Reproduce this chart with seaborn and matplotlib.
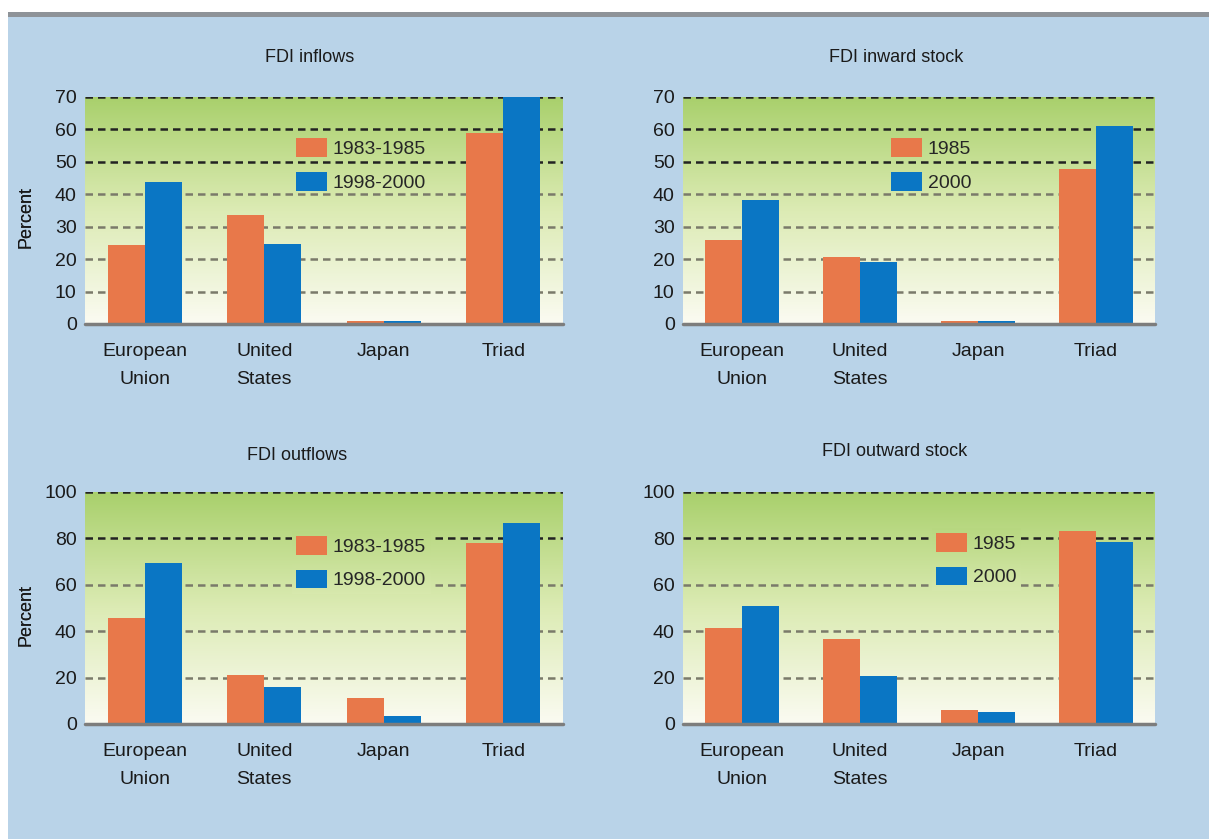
import numpy as np
import pandas as pd
import seaborn as sns
import matplotlib.pyplot as plt
from matplotlib.patches import Rectangle, Patch
from matplotlib.colors import LinearSegmentedColormap

sns.set_style('white')
plt.rcParams['font.family'] = ['Liberation Sans', 'DejaVu Sans']

# Dados
regioes = ['European\nUnion', 'United\nStates', 'Japan', 'Triad']

periodos_fluxo = ['1983-1985', '1998-2000']
periodos_estoque = ['1985', '2000']

inflows_antes = [24.5, 33.7, 1, 59]
inflows_depois = [43.8, 24.7, 1, 70.7]

inward_antes = [26, 20.7, 1, 47.8]
inward_depois = [38.3, 19.2, 1, 61]

outflows_antes = [45.5, 21, 11, 78]
outflows_depois = [69.2, 16, 3.4, 86.5]

outward_antes = [41.5, 36.5, 6, 83]
outward_depois = [50.8, 20.7, 5, 78.5]

titulos = ['FDI inflows', 'FDI inward stock', 'FDI outflows', 'FDI outward stock']
limites = [70, 70, 100, 100]
passos = [10, 10, 20, 20]

cor_laranja = '#e8784a'
cor_azul = '#0a76c4'
cor_fundo = '#b9d3e8'

verde = LinearSegmentedColormap.from_list('verde', ['#fbfbf2', '#dcebb4', '#a9d06c'])


def monta_tabela(antes, depois, periodos):
    return pd.DataFrame({
        'regiao': regioes * 2,
        'valor': antes + depois,
        'periodo': [periodos[0]] * 4 + [periodos[1]] * 4,
    })


tabelas = [
    monta_tabela(inflows_antes, inflows_depois, periodos_fluxo),
    monta_tabela(inward_antes, inward_depois, periodos_estoque),
    monta_tabela(outflows_antes, outflows_depois, periodos_fluxo),
    monta_tabela(outward_antes, outward_depois, periodos_estoque),
]
legendas = [periodos_fluxo, periodos_estoque, periodos_fluxo, periodos_estoque]

W, H = 1209, 839
fig = plt.figure(figsize=(W / 100, H / 100), dpi=100, facecolor='white')

# Fundo azul e faixa cinza no topo
fig.patches.append(Rectangle((8 / W, 0), 1, 1 - 17 / H, transform=fig.transFigure,
                             facecolor=cor_fundo, edgecolor='none', zorder=-10))
fig.patches.append(Rectangle((8 / W, 1 - 17 / H), 1, 5 / H, transform=fig.transFigure,
                             facecolor='#8e9398', edgecolor='none', zorder=-10))

# Posições dos eixos (em pixels da imagem original)
posicoes = [(85, 97, 563, 324), (683, 97, 1155, 324),
            (85, 492, 563, 724), (683, 492, 1155, 724)]

# Posição dos títulos (pixels)
titulo_pos = [(310, 57), (896, 57), (297, 455), (895, 452)]

legenda_pos = [(0.425, 0.852), (0.424, 0.852), (0.425, 0.844), (0.519, 0.857)]

eixos = []
legs = []
for i in range(4):
    x0, y0, x1, y1 = posicoes[i]
    ax = fig.add_axes([x0 / W, 1 - y1 / H, (x1 - x0) / W, (y1 - y0) / H])
    ymax = limites[i]

    # Gradiente verde de fundo
    grad = np.linspace(0, 1, 256).reshape(-1, 1)
    ax.imshow(grad, extent=[-0.5, 3.5, 0, ymax], aspect='auto', cmap=verde,
              origin='lower', vmin=0, vmax=1, zorder=0)

    # Linhas de grade tracejadas
    for t in np.arange(passos[i], ymax + 0.1, passos[i]):
        cor = '#222222' if t / ymax > 0.65 else '#7a7a6a'
        ax.axhline(t, color=cor, lw=1.8, ls=(0, (3, 2)), zorder=1)

    sns.barplot(data=tabelas[i], x='regiao', y='valor', hue='periodo',
                palette=[cor_laranja, cor_azul], width=0.62, gap=0,
                saturation=1, legend=False, linewidth=0, ax=ax, zorder=2)

    ax.axhline(0, color='#7d7d7d', lw=2.5, zorder=3, clip_on=False)

    ax.set_xlim(-0.5, 3.5)
    ax.set_ylim(0, ymax)
    ax.set_yticks(np.arange(0, ymax + 1, passos[i]))
    ax.tick_params(axis='both', length=0, labelsize=14, colors='#1a1a1a')
    ax.tick_params(axis='x', pad=14)
    ax.tick_params(axis='y', pad=6)
    for lbl in ax.get_xticklabels():
        lbl.set_linespacing(1.85)
    for s in ax.spines.values():
        s.set_visible(False)
    ax.set_facecolor('none')

    ax.set_xlabel('')
    ax.set_ylabel('Percent', fontsize=13, color='#1a1a1a')
    ax.yaxis.set_label_coords((35 - x0) / (x1 - x0), 0.47)

    tx, ty = titulo_pos[i]
    fig.text(tx / W, 1 - ty / H, titulos[i], fontsize=13, color='#1a1a1a',
             ha='center', va='center')

    handles = [Patch(facecolor=cor_laranja, edgecolor='none'),
               Patch(facecolor=cor_azul, edgecolor='none')]
    leg = ax.legend(handles, legendas[i], loc='upper left',
                    bbox_to_anchor=legenda_pos[i], frameon=False,
                    fontsize=14, handlelength=1.6, handleheight=1.1,
                    handletextpad=0.3, labelspacing=0.7, borderaxespad=0)
    eixos.append(ax)
    legs.append(leg)

# Nos painéis de baixo a grade some atrás da legenda: cobre com o mesmo gradiente
fig.canvas.draw()
for i in (2, 3):
    ax = eixos[i]
    ymax = limites[i]
    bb = legs[i].get_window_extent().transformed(ax.transData.inverted())
    sub = np.linspace(bb.y0 / ymax, bb.y1 / ymax, 64).reshape(-1, 1)
    ax.imshow(sub, extent=[bb.x0 + 0.03, bb.x1 - 0.03, bb.y0 + 1.5, bb.y1 - 1.5],
              aspect='auto', cmap=verde, origin='lower', vmin=0, vmax=1, zorder=1.5)
    ax.set_xlim(-0.5, 3.5)
    ax.set_ylim(0, ymax)

fig.savefig('out.png', dpi=100, facecolor=fig.get_facecolor())
